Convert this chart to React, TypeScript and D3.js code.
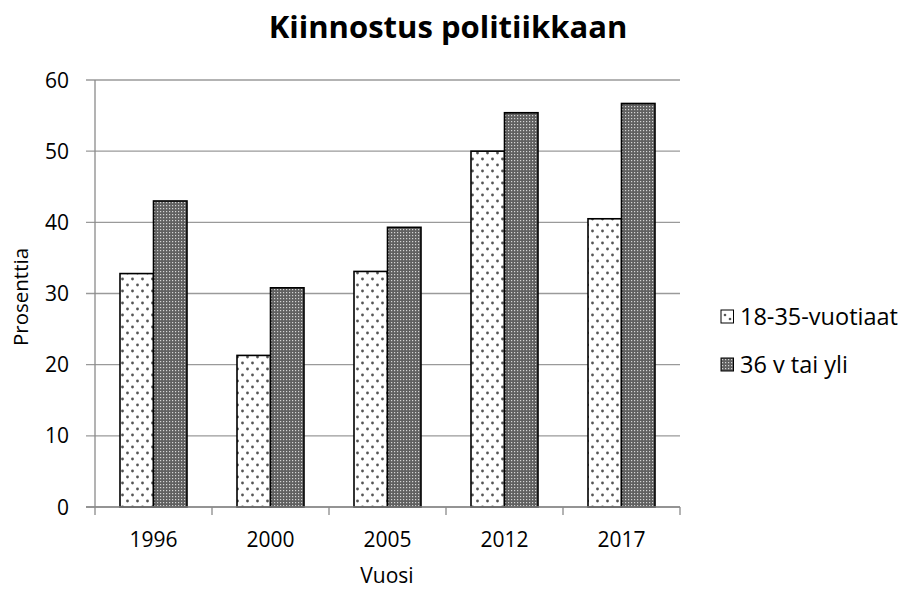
import React from 'react';
import * as d3 from 'd3';

const years = ['1996', '2000', '2005', '2012', '2017'];
const seriesNames = ['18-35-vuotiaat', '36 v tai yli'];
const young = [32.8, 21.3, 33.1, 50.0, 40.5];
const older = [43.0, 30.8, 39.3, 55.4, 56.7];
const yTicks = [0, 10, 20, 30, 40, 50, 60];

const W = 903;
const H = 591;
const font = '"Open Sans", sans-serif';

const App: React.FC = () => {
  const margin = { left: 95, right: 223, top: 80, bottom: 84 };
  const innerW = W - margin.left - margin.right;

  const x = d3.scaleBand<string>()
    .domain(years)
    .range([margin.left, margin.left + innerW]);

  const y = d3.scaleLinear()
    .domain([0, 60])
    .range([H - margin.bottom, margin.top]);

  const barW = 33.5;
  const series = [young, older];
  const fills = ['url(#dots)', 'url(#grid)'];

  return (
    <svg width={W} height={H} style={{ display: 'block', position: 'absolute', left: 0, top: 0, background: '#fff' }}>
      <defs>
        <pattern id="dots" width={10} height={12} patternUnits="userSpaceOnUse">
          <rect width={10} height={12} fill="#fff" />
          <circle cx={2.5} cy={3} r={1.4} fill="#555" />
          <circle cx={7.5} cy={9} r={1.4} fill="#555" />
        </pattern>
        <pattern id="grid" width={3} height={3} patternUnits="userSpaceOnUse">
          <rect width={3} height={3} fill="#606060" />
          <rect x={1} y={1} width={1.2} height={1.2} fill="#d4d4d4" />
        </pattern>
        <pattern id="dotsLegend" width={13} height={13} patternUnits="userSpaceOnUse">
          <rect width={13} height={13} fill="#fff" />
          <circle cx={4} cy={5} r={1.3} fill="#555" />
          <circle cx={9} cy={9} r={1.3} fill="#555" />
        </pattern>
      </defs>

      <text x={448} y={38} textAnchor="middle" fontFamily={font} fontWeight="bold" fontSize={31} fill="#000">
        Kiinnostus politiikkaan
      </text>

      {/* gridlines */}
      {yTicks.map(t => (
        <g key={t}>
          <line x1={margin.left - 9} x2={margin.left + innerW} y1={y(t)} y2={y(t)} stroke="#9a9a9a" strokeWidth={1.3} />
          <text x={69} y={y(t)} dy="0.36em" textAnchor="end" fontFamily={font} fontSize={21} fill="#000">{t}</text>
        </g>
      ))}

      {/* bars */}
      {series.map((vals, si) => (
        <g key={si}>
          {vals.map((v, i) => {
            const cx = (x(years[i]) ?? 0) + x.bandwidth() / 2;
            const bx = si === 0 ? cx - barW : cx;
            return (
              <rect key={i} x={bx} y={y(v)} width={barW} height={y(0) - y(v)}
                fill={fills[si]} stroke="#000" strokeWidth={1.6} />
            );
          })}
        </g>
      ))}

      {/* axes */}
      <line x1={margin.left} x2={margin.left} y1={y(60)} y2={y(0)} stroke="#8a8a8a" strokeWidth={1.3} />
      <line x1={margin.left - 9} x2={margin.left + innerW} y1={y(0)} y2={y(0)} stroke="#8a8a8a" strokeWidth={1.3} />
      {[...years.map(yr => x(yr) ?? 0), margin.left + innerW].map((px, i) => (
        <line key={i} x1={px} x2={px} y1={y(0)} y2={y(0) + 8} stroke="#8a8a8a" strokeWidth={1.3} />
      ))}
      {years.map(yr => (
        <text key={yr} x={(x(yr) ?? 0) + x.bandwidth() / 2} y={547} textAnchor="middle" fontFamily={font} fontSize={21} fill="#000">{yr}</text>
      ))}

      <text x={387} y={583} textAnchor="middle" fontFamily={font} fontSize={21} fill="#000">Vuosi</text>
      <text transform="translate(28,297) rotate(-90)" textAnchor="middle" fontFamily={font} fontSize={20.5} fill="#000">Prosenttia</text>

      {/* legend */}
      {seriesNames.map((name, i) => (
        <g key={name} transform={`translate(721, ${310 + i * 48})`}>
          <rect x={0} y={0} width={12.5} height={13} fill={i === 0 ? 'url(#dotsLegend)' : 'url(#grid)'} stroke="#000" strokeWidth={1} />
          <text x={19} y={15} fontFamily={font} fontSize={23.5} fill="#000">{name}</text>
        </g>
      ))}
    </svg>
  );
};

export default App;
